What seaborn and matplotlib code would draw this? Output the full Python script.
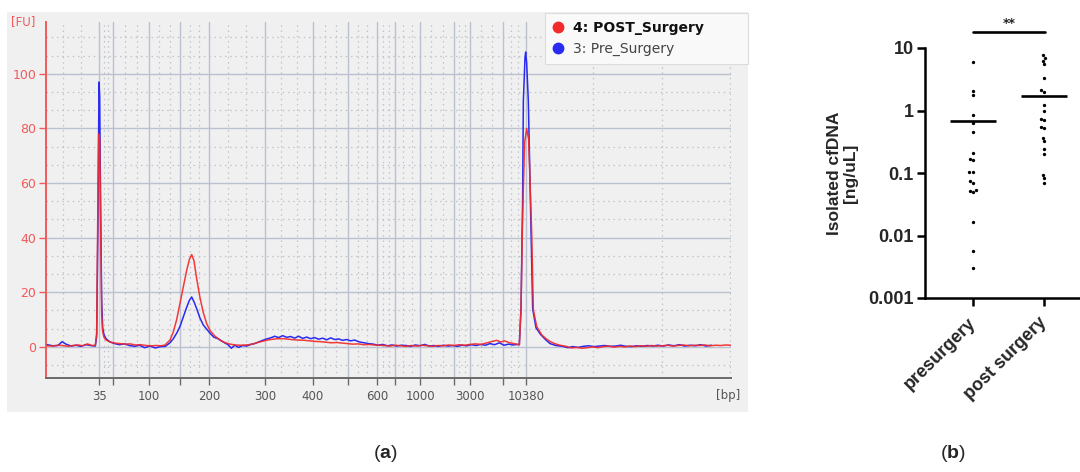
import numpy as np
import pandas as pd
import matplotlib
matplotlib.use("Agg")
import matplotlib.pyplot as plt
import seaborn as sns
from matplotlib.lines import Line2D
from matplotlib.patches import Rectangle
from matplotlib.ticker import FixedLocator, NullFormatter

# ---------------- panel (a): electropherogram ----------------
ladder_bp = [35, 50, 100, 150, 200, 300, 400, 500, 600, 700, 1000, 2000, 3000, 7000, 10380]
ladder_time = [43.0, 45.05, 50.45, 55.1, 59.45, 67.85, 75.05, 80.3, 84.65, 87.35,
               91.1, 96.2, 98.6, 103.55, 107.0]
ladder_labels = ["35", "", "100", "", "200", "300", "400", "", "600", "",
                 "1000", "", "3000", "", "10380"]

post_time = [35.2, 36.0, 36.8, 37.5, 38.3, 39.0, 39.8, 40.5, 41.2, 41.9,
             42.4, 42.6, 42.75, 42.9, 43.05, 43.2, 43.35, 43.5, 43.7, 44.0,
             44.6, 45.3, 46.0, 46.8, 47.6, 48.4, 49.2, 50.0, 50.8, 51.6,
             52.3, 52.85, 53.6, 54.1, 54.6, 55.1, 55.6, 56.1, 56.5, 56.85,
             57.2, 57.6, 58.1, 58.6, 59.1, 59.6, 60.3, 61.1, 61.8, 62.6,
             63.4, 64.2, 65.0, 65.8, 66.6, 67.4, 68.2, 69.0, 69.8, 70.6,
             71.4, 72.2, 73.0, 73.8, 74.6, 75.4, 76.2, 77.0, 77.8, 78.6,
             79.4, 80.2, 81.0, 81.8, 82.6, 83.4, 84.2, 85.0, 85.8, 86.6,
             87.4, 88.2, 89.0, 89.8, 90.6, 91.4, 92.2, 93.0, 93.8, 94.6,
             95.4, 96.2, 97.0, 97.8, 98.6, 99.4, 100.2, 101.0, 101.8, 102.6,
             103.2, 103.8, 104.4, 105.0, 105.6, 106.0, 106.25, 106.45, 106.6, 106.8,
             107.1, 107.4, 107.7, 107.85, 108.1, 108.6, 109.35, 110.0, 110.6, 111.3,
             112.1, 113.0, 113.8, 114.6, 115.4, 116.2, 117.0, 117.8, 118.6, 119.4,
             120.2, 121.0, 121.8, 122.6, 123.4, 124.2, 125.0, 125.8, 126.6, 127.4,
             128.2, 129.0, 129.8, 130.6, 131.4, 132.2, 133.0, 133.8, 134.6, 135.4,
             136.2, 137.0, 137.7]
post_fu = [0.4, 0.3, 0.6, 0.5, 0.2, 0.5, 0.7, 0.4, 1.1, 0.5,
           0.6, 5.0, 45.0, 78.0, 76.0, 45.0, 12.0, 5.5, 3.5, 2.5,
           1.8, 1.4, 1.2, 1.0, 1.1, 0.7, 0.8, 0.5, 0.4, 0.5,
           0.4, 0.7, 2.5, 5.5, 10.0, 16.0, 22.0, 28.0, 32.0, 33.8,
           31.5, 25.0, 18.0, 12.5, 8.5, 6.0, 4.0, 2.5, 1.6, 1.0,
           0.7, 0.6, 0.7, 0.9, 1.5, 2.0, 2.5, 2.8, 3.0, 3.0,
           2.8, 2.6, 2.5, 2.4, 2.2, 2.0, 1.9, 1.7, 1.5, 1.6,
           1.4, 1.2, 1.0, 1.1, 0.8, 0.9, 0.7, 0.6, 0.5, 0.3,
           0.6, 0.4, 0.2, 0.5, 0.3, 0.6, 0.4, 0.2, 0.5, 0.4,
           0.7, 0.5, 0.8, 0.6, 0.9, 1.1, 0.9, 1.4, 1.9, 2.4,
           1.8, 2.2, 1.6, 1.3, 1.0, 0.8, 13.6, 42.0, 58.0, 75.0,
           80.0, 76.0, 54.0, 42.0, 13.6, 7.5, 4.4, 3.0, 2.0, 1.2,
           0.6, 0.2, -0.4, -0.2, -0.5, -0.3, 0.0, -0.3, 0.1, 0.3,
           -0.1, 0.2, 0.0, 0.3, 0.1, 0.4, 0.2, 0.5, 0.3, 0.4,
           0.6, 0.3, 0.5, 0.7, 0.4, 0.6, 0.5, 0.7, 0.4, 0.6,
           0.5, 0.7, 0.6]

pre_time = [35.2, 36.0, 36.8, 37.4, 38.0, 38.8, 39.5, 40.2, 41.0, 41.7,
            42.4, 42.6, 42.8, 42.95, 43.05, 43.2, 43.35, 43.5, 43.7, 44.0,
            44.6, 45.3, 46.0, 46.8, 47.5, 48.3, 49.0, 49.8, 50.6, 51.4,
            52.2, 52.9, 53.6, 54.1, 54.6, 55.1, 55.6, 56.1, 56.5, 56.85,
            57.2, 57.6, 58.1, 58.6, 59.1, 59.6, 60.2, 60.8, 61.3, 61.8,
            62.3, 62.8, 63.3, 63.9, 64.5, 65.1, 65.7, 66.3, 66.9, 67.5,
            68.1, 68.7, 69.3, 69.9, 70.5, 71.1, 71.7, 72.3, 72.9, 73.5,
            74.1, 74.7, 75.3, 75.9, 76.5, 77.1, 77.7, 78.3, 78.9, 79.5,
            80.1, 80.7, 81.3, 82.0, 82.7, 83.4, 84.1, 84.8, 85.5, 86.2,
            86.9, 87.6, 88.3, 89.0, 89.7, 90.4, 91.1, 91.8, 92.5, 93.2,
            93.9, 94.6, 95.3, 96.0, 96.7, 97.4, 98.1, 98.8, 99.5, 100.2,
            100.9, 101.6, 102.3, 103.0, 103.7, 104.4, 105.1, 105.7, 106.0, 106.25,
            106.5, 106.6, 106.85, 106.95, 107.1, 107.35, 107.7, 108.0, 108.5, 109.2,
            110.0, 110.6, 111.5, 112.5, 113.3, 114.0, 114.8, 115.6, 116.4, 117.2,
            118.0, 118.8, 119.6, 120.4, 121.2, 122.0, 122.8, 123.6, 124.4, 125.2,
            126.0, 126.8, 127.6, 128.4, 129.2, 130.0, 130.8, 131.6, 132.4, 133.2,
            134.0, 134.8]
pre_fu = [0.8, 0.4, 0.5, 1.9, 1.0, 0.3, 0.6, 0.2, 0.8, 0.5,
          0.3, 4.0, 47.0, 97.0, 92.0, 50.0, 17.0, 7.0, 4.5, 3.0,
          1.8, 1.2, 0.8, 1.1, 0.5, 0.2, 0.6, -0.3, 0.3, -0.4,
          0.1, 0.2, 1.5, 3.0, 5.0, 7.5, 11.0, 14.5, 17.0, 18.3,
          16.5, 14.0, 10.5, 8.0, 6.5, 5.0, 3.5, 3.0, 2.2, 1.5,
          0.8, -0.5, 0.6, -0.2, 0.5, 0.3, 0.9, 1.2, 1.8, 2.4,
          2.9, 3.3, 3.9, 3.4, 4.1, 3.5, 3.8, 3.2, 3.9, 3.1,
          3.6, 3.0, 3.4, 2.8, 3.2, 2.6, 3.3, 2.7, 2.9, 2.4,
          2.7, 2.2, 2.5, 1.8, 1.5, 1.2, 1.0, 0.6, 0.9, 0.4,
          0.7, 0.3, 0.6, 0.5, 0.2, 0.7, 0.4, 0.9, 0.3, 0.5,
          0.2, 0.6, 0.3, 0.5, 0.2, 0.6, 0.4, 0.8, 0.5, 0.9,
          0.6, 1.2, 0.8, 1.5, 0.6, 1.0, 0.7, 0.9, 0.8, 14.0,
          55.0, 90.0, 106.0, 108.0, 104.0, 90.0, 50.0, 14.0, 7.0, 4.5,
          2.5, 1.2, 0.5, 0.2, -0.3, 0.1, -0.2, 0.2, 0.4, 0.1,
          0.3, 0.5, 0.2, 0.3, 0.6, 0.2, 0.1, 0.4, 0.2, 0.5,
          0.3, 0.6, 0.3, 0.7, 0.4, 0.8, 0.3, 0.6, 0.4, 0.8,
          0.3, 0.6]

trace_labels = ["4: POST_Surgery", "3: Pre_Surgery"]
fu_ticks = [0, 20, 40, 60, 80, 100]

# ---------------- panel (b): isolated cfDNA ----------------
groups = ["presurgery", "post surgery"]
pre_conc = [6.0, 2.04, 1.80, 0.86, 0.62, 0.46, 0.21, 0.17, 0.16, 0.105,
            0.105, 0.074, 0.069, 0.054, 0.051, 0.050, 0.0166, 0.0057, 0.0030]
post_conc = [7.7, 7.0, 6.3, 5.6, 3.3, 2.1, 2.0, 1.22, 0.99, 0.73,
             0.70, 0.55, 0.52, 0.36, 0.32, 0.24, 0.20, 0.092, 0.082, 0.069]
mean_conc = [0.68, 1.72]
conc_ticks = [0.001, 0.01, 0.1, 1, 10]
conc_labels = ["0.001", "0.01", "0.1", "1", "10"]
sig_label = "**"

# ---------------- figure ----------------
sns.set_theme(style="white")
plt.rcParams['font.family'] = ['DejaVu Sans']
plt.rcParams['mathtext.fontset'] = 'custom'
plt.rcParams['mathtext.rm'] = 'Liberation Sans'
plt.rcParams['mathtext.bf'] = 'Liberation Sans:bold'

W, H = 1080, 472
fig = plt.figure(figsize=(W / 100, H / 100), dpi=100)
fig.patch.set_facecolor('white')

def fx(px):
    return px / W

def fy(py):
    return 1 - py / H

RED = '#f22a2a'
BLUE = '#2a2af2'
AXRED = '#f05a5a'
GRIDC = '#bcc1cf'
GRAYTXT = '#555555'

bg = Rectangle((fx(7), fy(412)), (748 - 7) / W, (412 - 12) / H,
               transform=fig.transFigure, facecolor='#f0f0f0',
               edgecolor='none', zorder=-5)
fig.patches.append(bg)

axa = fig.add_axes([fx(46), fy(378), (731 - 46) / W, (378 - 22) / H])
axa.set_facecolor('none')
axa.set_zorder(1)

df_post = pd.DataFrame({'time': post_time, 'fu': post_fu})
df_pre = pd.DataFrame({'time': pre_time, 'fu': pre_fu})
sns.lineplot(data=df_pre, x='time', y='fu', color=BLUE, lw=1.1, estimator=None,
             ax=axa, zorder=3)
sns.lineplot(data=df_post, x='time', y='fu', color=RED, lw=1.1, estimator=None,
             ax=axa, zorder=4, alpha=0.92)

axa.set_xlim(35, 137.75)
axa.set_ylim(-11.4, 119.0)
axa.set_xlabel('')
axa.set_ylabel('')

axa.set_xticks(ladder_time)
axa.set_xticklabels(ladder_labels)
minor_x = [37.55, 40.25]
for a, b in zip(ladder_time[:-1], ladder_time[1:]):
    minor_x += [a + (b - a) / 3, a + 2 * (b - a) / 3]
minor_x += [117.05, 127.4, 137.6]
axa.xaxis.set_minor_locator(FixedLocator(minor_x))
axa.set_yticks(fu_ticks)
axa.yaxis.set_minor_locator(FixedLocator([-20 / 3 + k * 20 / 3 for k in range(20)]))
axa.xaxis.set_minor_formatter(NullFormatter())
axa.yaxis.set_minor_formatter(NullFormatter())

axa.grid(which='major', color=GRIDC, lw=1.0, ls='-')
axa.grid(which='minor', color='#c0c3cc', lw=0.9, ls=(0, (1.2, 3.0)))
axa.set_axisbelow(True)

for s in ['top', 'right']:
    axa.spines[s].set_visible(False)
axa.spines['left'].set_color(AXRED)
axa.spines['left'].set_linewidth(1.4)
axa.spines['bottom'].set_color('#6a6a6a')
axa.spines['bottom'].set_linewidth(1.4)
axa.tick_params(axis='y', which='major', direction='out', length=5, width=1,
                color=AXRED, labelcolor=AXRED, labelsize=9, pad=2, left=True)
axa.tick_params(axis='x', which='major', direction='out', length=5, width=1,
                color='#6a6a6a', labelcolor=GRAYTXT, labelsize=8.5, pad=4, bottom=True)
axa.tick_params(which='minor', length=0)

fig.text(fx(11), fy(22), "[FU]", color=AXRED, fontsize=8.5, va='center', ha='left')
fig.text(fx(728), fy(395), "[bp]", color=GRAYTXT, fontsize=8.5, va='center', ha='center')

handles = [Line2D([], [], marker='o', ls='none', color=RED, markersize=7.5),
           Line2D([], [], marker='o', ls='none', color=BLUE, markersize=7.5)]
leg = fig.legend(handles, trace_labels, loc='upper left',
                 bbox_to_anchor=(fx(545), fy(77), 203 / W, 64 / H), mode='expand',
                 borderaxespad=0, frameon=True, fancybox=False,
                 facecolor='#f9f9f9', edgecolor='#dcdcdc', framealpha=1,
                 fontsize=10, handlelength=0.8, handletextpad=0.7,
                 borderpad=0.55, labelspacing=0.55)
leg.set_zorder(10)
leg.get_texts()[0].set_fontweight('bold')
leg.get_texts()[0].set_color('#111111')
leg.get_texts()[1].set_color('#444444')
leg.get_frame().set_linewidth(0.8)

# ---------------- panel (b) ----------------
axb = fig.add_axes([fx(925), fy(298), (1080 - 925) / W, (298 - 48) / H])
axb.set_facecolor('white')
df_b = pd.DataFrame({'group': [groups[0]] * len(pre_conc) + [groups[1]] * len(post_conc),
                     'conc': pre_conc + post_conc})
sns.swarmplot(data=df_b, x='group', y='conc', order=groups, color='black',
              size=2.4, log_scale=True, ax=axb, zorder=3)
for i, m in enumerate(mean_conc):
    axb.hlines(m, i - 0.33, i + 0.33, color='black', lw=1.9, zorder=4)

axb.set_ylim(0.001, 10)
axb.set_xlim(-0.676, 1.507)
axb.set_yticks(conc_ticks)
axb.set_yticklabels(conc_labels)
axb.yaxis.set_minor_locator(FixedLocator([]))
axb.set_xlabel('')
for s in ['top', 'right']:
    axb.spines[s].set_visible(False)
for s in ['left', 'bottom']:
    axb.spines[s].set_linewidth(1.8)
    axb.spines[s].set_color('black')
axb.tick_params(axis='both', which='major', direction='out', length=6, width=1.8,
                color='black', labelsize=13, pad=2, left=True, bottom=True)
for lab in axb.get_yticklabels():
    lab.set_fontweight('bold')
    lab.set_fontfamily('Liberation Sans')
for lab in axb.get_xticklabels():
    lab.set_fontweight('bold')
    lab.set_fontfamily('Liberation Sans')
    lab.set_rotation(45)
    lab.set_ha('right')
    lab.set_va('center')
    lab.set_rotation_mode('anchor')
axb.tick_params(axis='x', pad=10)

axb.set_ylabel("Isolated cfDNA\n[ng/uL]", fontsize=12.5, fontweight='bold',
               family='Liberation Sans', linespacing=1.1)
axb.yaxis.set_label_coords(-0.43, 0.5)

sig_y = 18.0
axb.plot([0, 1.02], [sig_y, sig_y], color='black', lw=1.9, clip_on=False)
axb.text(0.51, 24.5, sig_label, ha='center', va='center', fontsize=9,
         fontweight='bold', color='#222222', clip_on=False)

# captions
fig.text(fx(385), fy(453), r"($\mathbf{a}$)", fontsize=14, family='Liberation Sans',
         ha='center', va='center')
fig.text(fx(953), fy(453), r"($\mathbf{b}$)", fontsize=14, family='Liberation Sans',
         ha='center', va='center')

fig.savefig('out.png', dpi=100, facecolor='white')
